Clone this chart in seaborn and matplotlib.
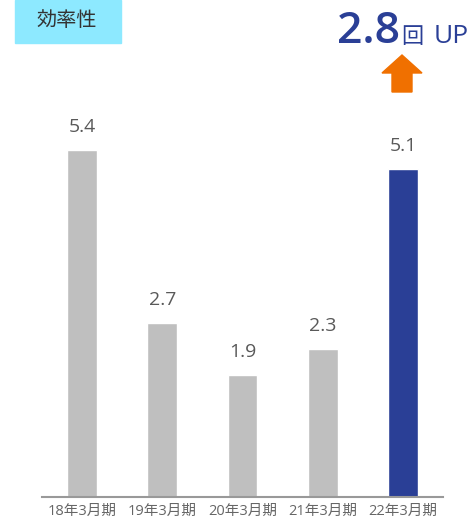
import matplotlib
matplotlib.use("Agg")
import matplotlib.pyplot as plt
from matplotlib.patches import Polygon, Rectangle
import seaborn as sns
import pandas as pd

# data
periods = ["18年3月期", "19年3月期", "20年3月期", "21年3月期", "22年3月期"]
values = [5.4, 2.7, 1.9, 2.3, 5.1]
highlight = [False, False, False, False, True]

sns.set_theme(style="white")
plt.rcParams['font.family'] = ['Open Sans', 'Noto Sans CJK JP', 'DejaVu Sans']

df = pd.DataFrame({"period": periods, "value": values,
                   "grp": ["hi" if h else "lo" for h in highlight]})

W, H = 474, 521
fig = plt.figure(figsize=(W / 100, H / 100), dpi=100)
ax = fig.add_axes([42 / W, 24 / H, 401 / W, 386 / H])

sns.barplot(data=df, x="period", y="value", hue="grp",
            palette={"lo": "#BFBFBF", "hi": "#2A3F96"},
            width=0.37, dodge=False, legend=False, ax=ax, saturation=1)

for i, v in enumerate(values):
    ax.annotate(f"{v:.1f}", (i, v), xytext=(0, 10), textcoords="offset points",
                ha="center", va="bottom", fontsize=14, color="#595959")

ax.set_xlim(-0.5, 4.5)
ax.set_ylim(0, 6)
ax.set_xlabel("")
ax.set_ylabel("")
ax.set_yticks([])
sns.despine(ax=ax, left=True)
ax.spines["bottom"].set_color("#999999")
ax.spines["bottom"].set_linewidth(1.5)
ax.tick_params(axis="x", length=0, pad=5, labelsize=10.5, labelcolor="#666666")

# title box
def px(x, y):
    return (x / W, 1 - y / H)

fig.patches.append(Rectangle(px(15, 43), 106 / W, 43 / H,
                             transform=fig.transFigure, color="#8DE9FF", zorder=0))
fig.text(67 / W, 1 - 21 / H, "効率性", ha="center", va="center",
         fontsize=14.5, color="#333333")

# headline
fig.text(400 / W, 1 - 43 / H, "2.8", ha="right", va="baseline",
         fontsize=32, fontweight=600, color="#2A3F96")
fig.text(401 / W, 1 - 43 / H, "回", ha="left", va="baseline",
         fontsize=16, color="#2A3F96")
fig.text(434 / W, 1 - 43 / H, "UP", ha="left", va="baseline",
         fontsize=19, color="#2A3F96")

# arrow
arrow_pts = [px(382, 73), px(402, 55), px(422, 73), px(412, 73),
             px(412, 92), px(392, 92), px(392, 73)]
fig.patches.append(Polygon(arrow_pts, closed=True, transform=fig.transFigure,
                           color="#F07000"))

plt.savefig("out.png", dpi=100)
